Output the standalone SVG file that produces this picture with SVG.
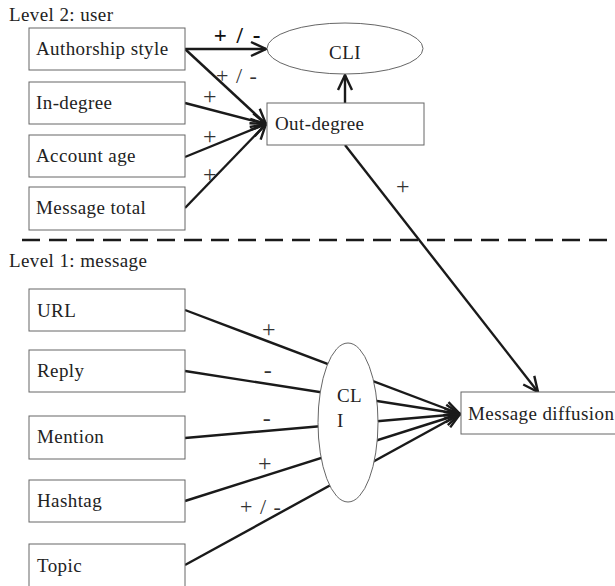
<svg xmlns="http://www.w3.org/2000/svg" width="615" height="586" viewBox="0 0 615 586">
<style>
  text { font-family: "Liberation Serif", "Times New Roman", serif; font-size: 19px; fill: #222; letter-spacing: 0.4px; }
  .box { fill: #fff; stroke: #666; stroke-width: 1; }
  .ell { fill: #fff; stroke: #666; stroke-width: 1; }
  .conn { stroke: #1a1a1a; stroke-width: 2.4; fill: none; }
  .lbl { font-size: 24px; fill: #333; }
  .pm { font-size: 22px; fill: #333; letter-spacing: 1px; }
  .bold { font-weight: bold; font-size: 23px; letter-spacing: 2px; fill: #111; }
  .mid { text-anchor: middle; }
</style>
<defs>
  <marker id="arr" markerUnits="userSpaceOnUse" markerWidth="18" markerHeight="16" refX="16" refY="8" orient="auto" overflow="visible">
    <path d="M1,1 L16,8 L1,15" fill="none" stroke="#1a1a1a" stroke-width="2.4"/>
  </marker>
</defs>

<rect width="615" height="586" fill="#fff"/>

<text x="9" y="21">Level 2: user</text>
<text x="9" y="267">Level 1: message</text>

<g id="connectors">
  <line class="conn" x1="22" y1="240" x2="608" y2="240" stroke-dasharray="18,9"/>
  <line class="conn" x1="185" y1="49" x2="266" y2="49" marker-end="url(#arr)"/>
  <line class="conn" x1="185" y1="49" x2="266" y2="124" marker-end="url(#arr)"/>
  <line class="conn" x1="185" y1="103" x2="266" y2="124" marker-end="url(#arr)"/>
  <line class="conn" x1="185" y1="157" x2="266" y2="124" marker-end="url(#arr)"/>
  <line class="conn" x1="185" y1="208" x2="266" y2="124" marker-end="url(#arr)"/>
  <line class="conn" x1="345" y1="103" x2="345" y2="75" marker-end="url(#arr)"/>
  <line class="conn" x1="345" y1="145" x2="538" y2="392" marker-end="url(#arr)"/>
  <line class="conn" x1="185" y1="310" x2="460" y2="414" marker-end="url(#arr)"/>
  <line class="conn" x1="185" y1="371" x2="460" y2="414" marker-end="url(#arr)"/>
  <line class="conn" x1="185" y1="438" x2="460" y2="414" marker-end="url(#arr)"/>
  <line class="conn" x1="185" y1="501" x2="460" y2="414" marker-end="url(#arr)"/>
  <line class="conn" x1="185" y1="565" x2="460" y2="414" marker-end="url(#arr)"/>
</g>

<g id="labels">
  <text class="bold mid" x="238" y="43">+ / -</text>
  <text class="pm mid" x="237" y="83">+ / -</text>
  <text class="lbl mid" x="210" y="104">+</text>
  <text class="lbl mid" x="210" y="144">+</text>
  <text class="lbl mid" x="210" y="182">+</text>
  <text class="lbl mid" x="403" y="194">+</text>
  <text class="lbl mid" x="269" y="337">+</text>
  <text class="lbl mid" x="268" y="378">-</text>
  <text class="lbl mid" x="267" y="426">-</text>
  <text class="lbl mid" x="265" y="471">+</text>
  <text class="pm mid" x="261" y="514">+ / -</text>
</g>

<g id="n-authorship"><rect class="box" x="29" y="28" width="156" height="42"/><text x="36" y="55">Authorship style</text></g>
<g id="n-indegree"><rect class="box" x="29" y="82" width="156" height="42"/><text x="36" y="109">In-degree</text></g>
<g id="n-accountage"><rect class="box" x="29" y="135" width="156" height="42"/><text x="36" y="162">Account age</text></g>
<g id="n-msgtotal"><rect class="box" x="29" y="187" width="156" height="43"/><text x="36" y="214">Message total</text></g>
<g id="n-cli-top"><ellipse class="ell" cx="345" cy="48.5" rx="78" ry="25.5"/><text class="mid" x="345" y="59">CLI</text></g>
<g id="n-outdegree"><rect class="box" x="267" y="103" width="157" height="42"/><text x="275" y="130">Out-degree</text></g>

<g id="n-url"><rect class="box" x="29" y="289" width="156" height="42"/><text x="37" y="317">URL</text></g>
<g id="n-reply"><rect class="box" x="29" y="350" width="156" height="42"/><text x="37" y="377">Reply</text></g>
<g id="n-mention"><rect class="box" x="29" y="416" width="156" height="43"/><text x="37" y="443">Mention</text></g>
<g id="n-hashtag"><rect class="box" x="29" y="480" width="156" height="42"/><text x="37" y="507">Hashtag</text></g>
<g id="n-topic"><rect class="box" x="29" y="544" width="156" height="46"/><text x="37" y="572">Topic</text></g>
<g id="n-cli-bottom"><ellipse class="ell" cx="348" cy="422.5" rx="30" ry="79.5"/><text x="337" y="402">CL</text><text x="337" y="427">I</text></g>
<g id="n-diffusion"><rect class="box" x="461" y="392" width="160" height="42"/><text x="468" y="420">Message diffusion</text></g>
</svg>
